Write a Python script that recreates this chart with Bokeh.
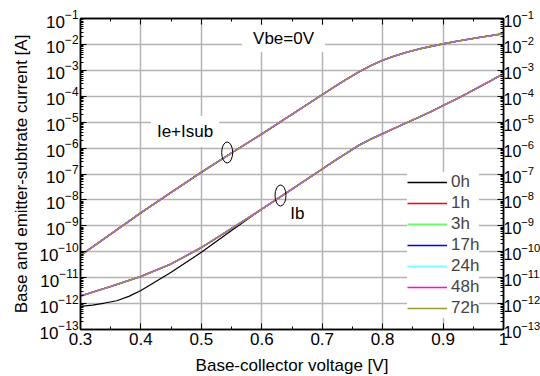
from bokeh.plotting import figure
from bokeh.models import (LogAxis, LinearAxis, FixedTicker, Label, Legend, LegendItem,
                          CustomJSTickFormatter)
from bokeh.embed import file_html
from bokeh.resources import INLINE

# ---------------- data ----------------
hours = ["0h", "1h", "3h", "17h", "24h", "48h", "72h"]
colors = ["#000000", "#ff0000", "#66ff66", "#0000ff", "#80ffff", "#ff00ff", "#999933"]
legend_widths = [1.3, 1.3, 2.2, 1.3, 2.2, 1.3, 1.5]
curve_widths = [1.2, 1.3, 1.3, 1.6, 1.3, 1.3, 1.1]

v_ie = [0.30, 0.35, 0.40, 0.45, 0.50, 0.55, 0.60, 0.65, 0.70, 0.72, 0.74, 0.76,
        0.78, 0.80, 0.82, 0.84, 0.86, 0.88, 0.90, 0.92, 0.94, 0.96, 0.98, 1.00]
ie_isub = [7.2e-11, 4.8e-10, 3.2e-9, 1.95e-8, 1.17e-7, 6.5e-7, 3.5e-6, 2.0e-5,
           1.15e-4, 2.3e-4, 4.5e-4, 8.5e-4, 1.5e-3, 2.45e-3, 3.6e-3, 5.0e-3,
           6.6e-3, 8.4e-3, 1.05e-2, 1.29e-2, 1.55e-2, 1.86e-2, 2.2e-2, 2.6e-2]

v_ib = [0.30, 0.35, 0.40, 0.45, 0.50, 0.55, 0.60, 0.65, 0.70, 0.72, 0.74, 0.76,
        0.78, 0.80, 0.82, 0.84, 0.86, 0.88, 0.90, 0.92, 0.94, 0.96, 0.98, 1.00]
ib = [1.95e-12, 4.6e-12, 1.12e-11, 3.4e-11, 1.45e-10, 7.9e-10, 4.4e-9, 2.6e-8,
      1.55e-7, 3.2e-7, 6.3e-7, 1.26e-6, 2.2e-6, 3.6e-6, 5.9e-6, 9.6e-6,
      1.55e-5, 2.55e-5, 4.4e-5, 7.4e-5, 1.29e-4, 2.3e-4, 4.1e-4, 7.4e-4]

v_ib_0h = [0.30, 0.32, 0.34, 0.36, 0.38, 0.40, 0.45, 0.50, 0.55, 0.60, 0.65, 0.70,
           0.72, 0.74, 0.76, 0.78, 0.80, 0.82, 0.84, 0.86, 0.88, 0.90, 0.92,
           0.94, 0.96, 0.98, 1.00]
ib_0h = [7.8e-13, 8.7e-13, 1.05e-12, 1.29e-12, 1.9e-12, 3.2e-12, 1.62e-11, 9.5e-11,
         6.6e-10, 4.4e-9, 2.6e-8, 1.55e-7, 3.2e-7, 6.3e-7, 1.26e-6, 2.2e-6,
         3.6e-6, 5.9e-6, 9.6e-6, 1.55e-5, 2.55e-5, 4.4e-5, 7.4e-5, 1.29e-4,
         2.3e-4, 4.1e-4, 7.4e-4]

x_ticks = [0.3, 0.4, 0.5, 0.6, 0.7, 0.8, 0.9, 1.0]
x_minor = [0.35, 0.45, 0.55, 0.65, 0.75, 0.85, 0.95]
y_ticks = [10.0 ** e for e in range(-13, 0)]
y_minor = [m * 10.0 ** e for e in range(-13, -1) for m in range(2, 10)]

FONT = "Liberation Sans"

p = figure(frame_width=423, frame_height=311, x_range=(0.3, 1.0), y_range=(1e-13, 1e-1),
           y_axis_type="log", output_backend="svg", toolbar_location=None,
           min_border_left=80, min_border_right=36, min_border_top=18,
           min_border_bottom=47)
p.outline_line_color = "black"
p.outline_line_width = 1.5
p.background_fill_color = "white"

xt = FixedTicker(ticks=x_ticks, minor_ticks=x_minor)
yt = FixedTicker(ticks=y_ticks, minor_ticks=y_minor)

p.xaxis.ticker = xt
p.yaxis.ticker = yt
p.xaxis.axis_label = "Base-collector voltage [V]"
p.yaxis.axis_label = "Base and emitter-subtrate current [A]"


def style_axis(ax, size="17px"):
    ax.axis_line_color = "black"
    ax.axis_line_width = 1.5
    ax.major_tick_in = 6
    ax.major_tick_out = 0
    ax.minor_tick_in = 3
    ax.minor_tick_out = 0
    ax.major_tick_line_color = "black"
    ax.minor_tick_line_color = "black"
    ax.major_label_text_font = FONT
    ax.major_label_text_font_size = size
    ax.major_label_text_color = "black"
    ax.axis_label_text_font = FONT
    ax.axis_label_text_font_size = "17px"
    ax.axis_label_text_font_style = "normal"
    ax.axis_label_text_color = "black"


for ax in p.xaxis + p.yaxis:
    style_axis(ax)
p.xaxis.major_label_standoff = 3
p.xaxis.axis_label_standoff = 8
p.yaxis.major_label_standoff = 2
p.yaxis.axis_label_standoff = 5

right = LogAxis(ticker=yt)
style_axis(right, "16px")
right.major_label_standoff = 0
right.axis_label_standoff = 0
p.add_layout(right, "right")

top = LinearAxis(ticker=xt, formatter=CustomJSTickFormatter(code="return ''"))
style_axis(top)
top.major_label_text_font_size = "0px"
top.major_label_standoff = 0
top.axis_label_standoff = 0
p.add_layout(top, "above")

p.xgrid.grid_line_color = "#b4b4b4"
p.ygrid.grid_line_color = "#b4b4b4"
p.xgrid.grid_line_width = 1.5
p.ygrid.grid_line_width = 1.5

# curves
key_x = [2.0, 3.0]          # outside the x range: legend keys only
key_y = [1e-5, 1e-5]
items = []
for h, c, cw, lw in zip(hours, colors, curve_widths, legend_widths):
    p.line(v_ie, ie_isub, line_color=c, line_width=cw)
    if h == "0h":
        p.line(v_ib_0h, ib_0h, line_color=c, line_width=cw)
    else:
        p.line(v_ib, ib, line_color=c, line_width=cw)
    key = p.line(key_x, key_y, line_color=c, line_width=lw)
    items.append(LegendItem(label=h, renderers=[key]))


def text_label(x, y, txt, pad):
    lab = Label(x=x, y=y, text=txt, text_font=FONT, text_font_size="17px",
                text_align="center", text_baseline="middle", text_color="black",
                background_fill_color="white", padding=pad)
    p.add_layout(lab)


text_label(0.636, 10 ** -1.77, "Vbe=0V", dict(left=11, right=11, top=4, bottom=4))
text_label(0.473, 10 ** -5.36, "Ie+Isub", dict(left=6, right=6, top=6, bottom=6))
text_label(0.659, 10 ** -8.52, "Ib", dict(left=6, right=6, top=1, bottom=1))

ell_x = [0.5427, 0.631]
ell_y = [10 ** -6.17, 10 ** -7.83]
p.ellipse(x=ell_x, y=ell_y, width=11, height=21, width_units="screen",
          height_units="screen", fill_color=None, line_color="black", line_width=1)

legend = Legend(items=items, location=(327, 11), background_fill_color="white",
                background_fill_alpha=1.0, border_line_color=None,
                label_text_font=FONT, label_text_font_size="17px",
                glyph_width=40, glyph_height=20, label_height=20,
                spacing=1, padding=3, margin=0, label_standoff=4)
p.add_layout(legend)

open("out.html", "w").write(file_html(p, INLINE))
